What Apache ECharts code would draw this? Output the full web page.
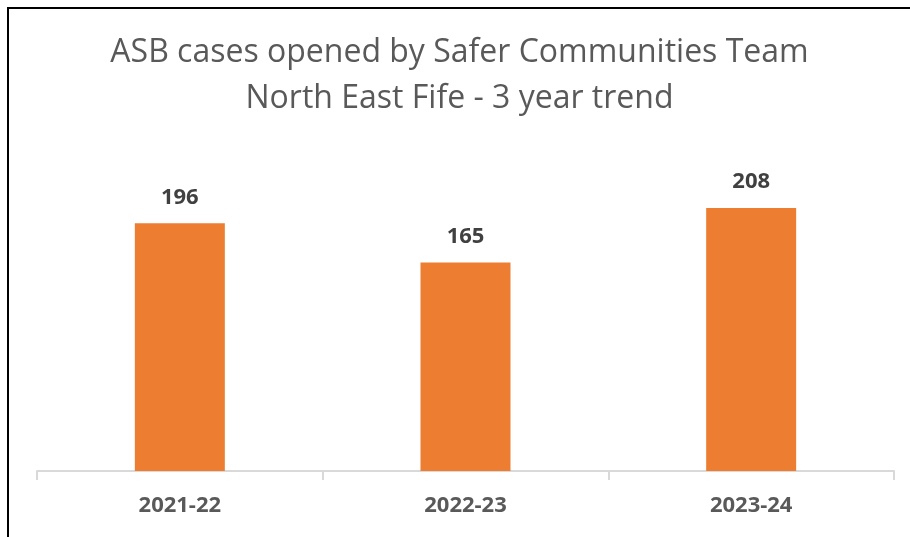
<!DOCTYPE html>
<html>
<head>
<meta charset="utf-8">
<script src="https://cdn.jsdelivr.net/npm/echarts@6/dist/echarts.min.js"></script>
<style>
  html, body { margin: 0; padding: 0; background: #fff; }
  #main { box-sizing: border-box; border-top: 2px solid #000; border-left: 2px solid #000; position: absolute; left: 7px; top: 7px; width: 903px; height: 530px; }
</style>
</head>
<body>
<div id="main"></div>
<script>
// 数据
var categories = ["2021-22", "2022-23", "2023-24"];
var cases = [196, 165, 208];

var myChart = echarts.init(document.getElementById("main"));
myChart.setOption({
  animation: false,
  title: {
    text: "ASB cases opened by Safer Communities Team\nNorth East Fife - 3 year trend",
    left: "center",
    top: 16,
    textStyle: {
      fontFamily: "Open Sans",
      fontWeight: "normal",
      fontSize: 32,
      lineHeight: 46,
      color: "#595959"
    }
  },
  grid: { left: 28, right: 16, top: 146, bottom: 66 },
  xAxis: {
    type: "category",
    data: categories,
    axisLine: { lineStyle: { color: "#d9d9d9", width: 2 } },
    axisTick: { show: true, length: 9, lineStyle: { color: "#d9d9d9", width: 2 } },
    axisLabel: {
      margin: 24,
      fontFamily: "Open Sans",
      fontWeight: "bold",
      fontSize: 22,
      color: "#595959"
    }
  },
  yAxis: {
    type: "value",
    min: 0,
    max: 250,
    show: false,
    splitLine: { show: false }
  },
  series: [
    {
      type: "bar",
      data: cases,
      barWidth: "31.5%",
      itemStyle: { color: "#ed7d31" },
      label: {
        show: true,
        position: "top",
        distance: 15,
        fontFamily: "Open Sans",
        fontWeight: "bold",
        fontSize: 22,
        color: "#404040"
      }
    }
  ]
});
</script>
</body>
</html>
